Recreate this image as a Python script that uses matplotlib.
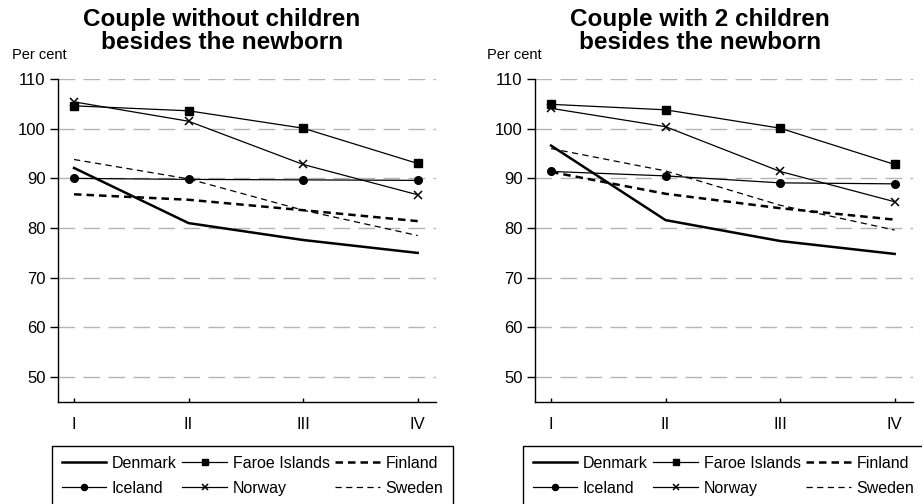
import matplotlib.pyplot as plt
import numpy as np

plt.rcParams['font.family'] = ['Liberation Sans', 'DejaVu Sans']

# data
quarters = ['I', 'II', 'III', 'IV']
countries = ['Denmark', 'Faroe Islands', 'Finland', 'Iceland', 'Norway', 'Sweden']

no_children = {
    'Denmark': [92.1, 81.0, 77.6, 75.0],
    'Faroe Islands': [104.6, 103.6, 100.1, 93.0],
    'Finland': [86.8, 85.7, 83.6, 81.4],
    'Iceland': [90.0, 89.8, 89.7, 89.6],
    'Norway': [105.4, 101.5, 92.8, 86.7],
    'Sweden': [93.8, 89.9, 83.6, 78.5],
}
two_children = {
    'Denmark': [96.6, 81.6, 77.4, 74.8],
    'Faroe Islands': [104.9, 103.8, 100.1, 92.8],
    'Finland': [91.3, 86.9, 84.0, 81.7],
    'Iceland': [91.4, 90.5, 89.1, 88.9],
    'Norway': [104.1, 100.4, 91.4, 85.3],
    'Sweden': [96.0, 91.5, 84.6, 79.6],
}

titles = ['Couple without children\nbesides the newborn',
          'Couple with 2 children\nbesides the newborn']

# line styles per country
styles = {
    'Denmark': dict(color='black', lw=1.8, ls='-'),
    'Faroe Islands': dict(color='black', lw=0.9, ls='-', marker='s', ms=5.5),
    'Finland': dict(color='black', lw=1.8, ls=(0, (3, 2))),
    'Iceland': dict(color='black', lw=0.9, ls='-', marker='o', ms=5.5),
    'Norway': dict(color='black', lw=0.9, ls='-', marker='x', ms=6, mew=1.1),
    'Sweden': dict(color='black', lw=0.9, ls=(0, (5, 3.5))),
}

fig = plt.figure(figsize=(9.22, 5.04), dpi=100)

# axes left, data, title centre, "Per cent" left, legend left (pixels)
panels = [(58, no_children, 222, 12, 52), (535, two_children, 700, 487, 523)]
x = np.arange(len(quarters))

for (left_px, data, title_x, unit_x, leg_x), title in zip(panels, titles):
    ax = fig.add_axes([left_px / 922, 1 - 402 / 504, 378 / 922, 323 / 504])
    for c in countries:
        ax.plot(x, data[c], label=c, **styles[c])

    ax.set_xlim(-0.14, 3.16)
    ax.set_ylim(45, 110)
    ax.set_yticks(range(50, 111, 10))
    ax.set_xticks(x)
    ax.set_xticklabels(quarters)
    ax.yaxis.grid(True, color='#b4b4b4', ls=(0, (12, 6)), lw=1.0)
    ax.set_axisbelow(True)

    for s in ['top', 'right']:
        ax.spines[s].set_visible(False)
    for s in ['left', 'bottom']:
        ax.spines[s].set_linewidth(1.0)
    ax.tick_params(axis='y', direction='out', length=6, width=1, labelsize=12, pad=3)
    ax.tick_params(axis='x', direction='in', length=3, width=1, labelsize=12, pad=11)

    fig.text(title_x / 922, 1 - 31 / 504, title, ha='center', va='center',
             fontsize=17.5, fontweight='bold', linespacing=1.05)
    fig.text(unit_x / 922, 1 - 55 / 504, 'Per cent', ha='left', va='center', fontsize=10.5)

    handles, labels = ax.get_legend_handles_labels()
    # reorder so that ncol=3 fills row by row
    order = [0, 3, 1, 4, 2, 5]
    leg = ax.legend([handles[i] for i in order], [labels[i] for i in order],
                    ncol=3, loc='upper left',
                    bbox_to_anchor=(leg_x / 922, 1 - 446 / 504),
                    bbox_transform=fig.transFigure, borderaxespad=0,
                    fontsize=11.5, handlelength=2.8, handletextpad=0.35,
                    columnspacing=0.35, labelspacing=0.65, borderpad=0.6,
                    markerscale=0.8,
                    fancybox=False, framealpha=1, edgecolor='black')
    leg.get_frame().set_linewidth(1.0)

fig.savefig('out.png', dpi=100)
